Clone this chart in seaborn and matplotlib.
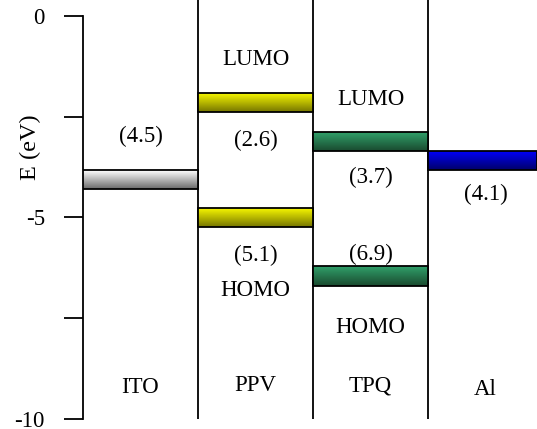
import numpy as np
import pandas as pd
import matplotlib
matplotlib.use("Agg")
import matplotlib.pyplot as plt
from matplotlib.colors import LinearSegmentedColormap
import seaborn as sns

# ---- data ----
layers = ["ITO", "PPV", "TPQ", "Al"]
bar_layer = ["ITO", "PPV", "PPV", "TPQ", "TPQ", "Al"]
bar_top = [-3.82, -1.92, -4.77, -2.87, -6.20, -3.34]
bar_bottom = [-4.29, -2.37, -5.24, -3.34, -6.69, -3.82]
bar_top_color = ["#6a6a6a", "#767600", "#767600", "#1a4a2f", "#1a4a2f", "#00006a"]
bar_bot_color = ["#ffffff", "#f6f600", "#f6f600", "#30a06a", "#30a06a", "#0000ff"]

# annotation texts: (layer, energy position, text)
note_layer = ["ITO", "PPV", "PPV", "PPV", "PPV", "TPQ", "TPQ", "TPQ", "TPQ", "Al"]
note_y = [-3.00, -1.09, -3.08, -5.93, -6.80, -2.06, -4.00, -5.91, -7.74, -4.44]
note_text = ["(4.5)", "LUMO", "(2.6)", "(5.1)", "HOMO", "LUMO", "(3.7)", "(6.9)", "HOMO", "(4.1)"]

name_y = [-9.21, -9.18, -9.18, -9.28]

yticks_major = [0, -5, -10]
yticks_minor = [-2.5, -7.5]

# ---- figure ----
sns.set_theme(style="ticks")
plt.rcParams["font.family"] = ["Liberation Serif", "DejaVu Serif"]

W, H = 537, 429
fig = plt.figure(figsize=(W / 100, H / 100), dpi=100)
ax = fig.add_axes([83 / W, 10 / H, 1 - 83 / W, 1 - 10 / H])
ax.set_facecolor("white")

xmax = 3.948
ytop = 0.397
ax.set_xlim(0, xmax)
ax.set_ylim(-10, ytop)

col = {n: i for i, n in enumerate(layers)}

# column separators via seaborn
sep = pd.DataFrame({
    "x": [1, 1, 2, 2, 3, 3],
    "y": [-10, ytop, -10, ytop, -10, ytop],
    "u": [1, 1, 2, 2, 3, 3],
})
sns.lineplot(data=sep, x="x", y="y", units="u", estimator=None, color="black",
             linewidth=1.3, ax=ax, legend=False, sort=False)

# energy level bars with vertical gradients
for lay, t, b, c1, c2 in zip(bar_layer, bar_top, bar_bottom, bar_top_color, bar_bot_color):
    x0 = col[lay]
    w = min(1.0, xmax - x0)
    bars = ax.bar(x0, t - b, bottom=b, width=w, align="edge",
                  facecolor="none", edgecolor="black", linewidth=1.3, zorder=4)
    cmap = LinearSegmentedColormap.from_list("g", [c1, c2])
    grad = np.linspace(0, 1, 64).reshape(-1, 1)
    im = ax.imshow(grad, cmap=cmap, aspect="auto", extent=[x0, x0 + w, t, b],
                   origin="upper", zorder=3, interpolation="bilinear")
    im.set_clip_path(bars.patches[0])

ax.set_xlim(0, xmax)
ax.set_ylim(-10, ytop)

# texts
fs = 16.5
for lay, y, s in zip(note_layer, note_y, note_text):
    ax.text(col[lay] + 0.5, y, s, ha="center", va="center", fontsize=fs, color="black", zorder=5)
for lay, y in zip(layers, name_y):
    ax.text(col[lay] + 0.5, y, lay, ha="center", va="center", fontsize=fs, color="black", zorder=5)

# axes styling
for s in ["top", "right", "bottom"]:
    ax.spines[s].set_visible(False)
ax.spines["left"].set_bounds(-10, 0)
ax.spines["left"].set_linewidth(1.3)
ax.spines["left"].set_color("black")
ax.set_xticks([])
ax.set_yticks(yticks_major)
ax.set_yticklabels([str(v) for v in yticks_major])
ax.set_yticks(yticks_minor, minor=True)
ax.tick_params(axis="y", which="both", direction="out", length=13.5, width=1.3,
               color="black", labelsize=fs, pad=14, labelcolor="black")
ax.set_xlabel("")
ax.set_ylabel("E (eV)", fontsize=17.5, color="black")
ax.yaxis.set_label_coords(-42 / (W - 83), 1 - 147 / 419)

fig.savefig("out.png", dpi=100)
